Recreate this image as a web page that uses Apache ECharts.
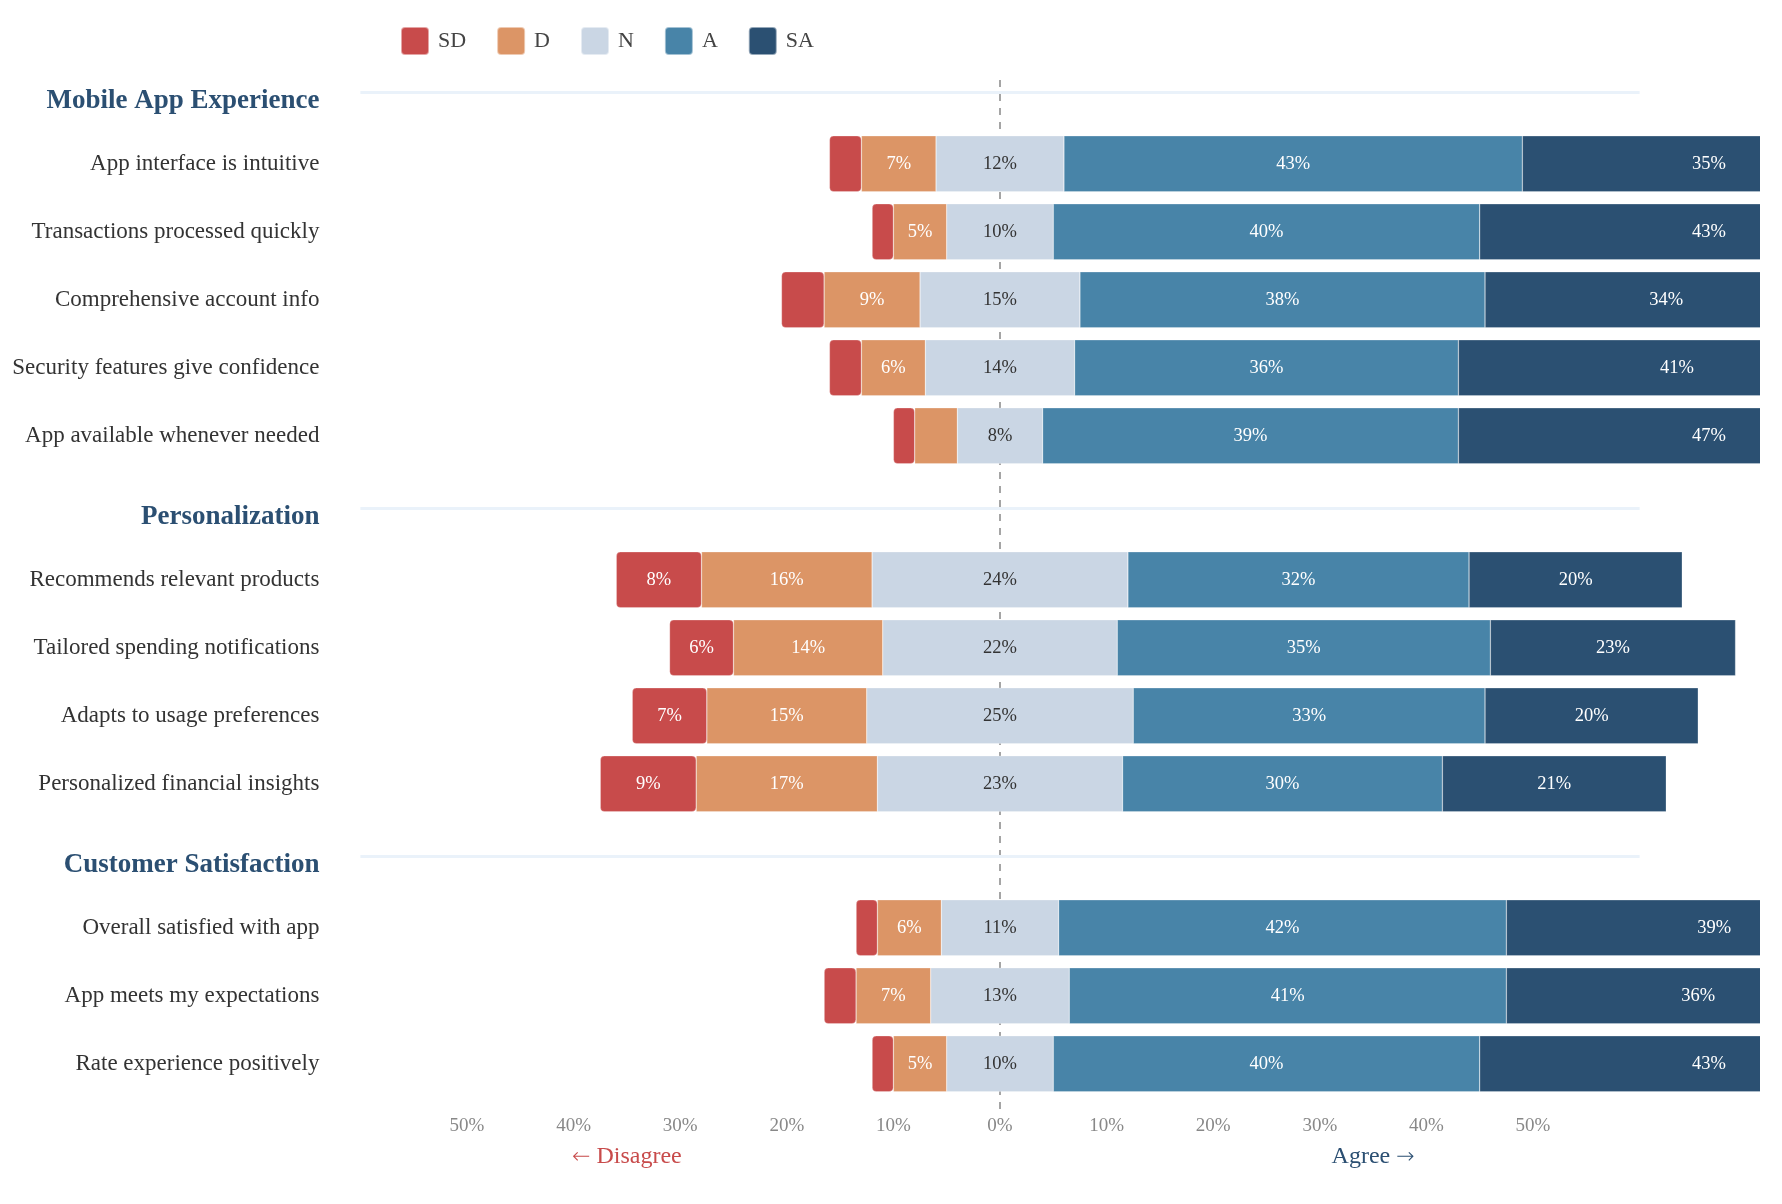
<!DOCTYPE html>
<html>
<head>
<meta charset="utf-8">
<script src="https://cdn.jsdelivr.net/npm/echarts@6/dist/echarts.min.js"></script>
<style>
html,body{margin:0;padding:0;background:#fff;}
#chart{width:1760px;height:1204px;}
</style>
</head>
<body>
<div id="chart"></div>
<script>
// ---------- data ----------
const groups = ['Mobile App Experience', 'Personalization', 'Customer Satisfaction'];
const itemsMobile = ['App interface is intuitive', 'Transactions processed quickly', 'Comprehensive account info', 'Security features give confidence', 'App available whenever needed'];
const itemsPersonal = ['Recommends relevant products', 'Tailored spending notifications', 'Adapts to usage preferences', 'Personalized financial insights'];
const itemsSatisfaction = ['Overall satisfied with app', 'App meets my expectations', 'Rate experience positively'];
const levels = ['SD', 'D', 'N', 'A', 'SA'];
// values in %, in order of the items above (Mobile, Personalization, Satisfaction)
const SD = [3, 2, 4, 3, 2, 8, 6, 7, 9, 2, 3, 2];
const D  = [7, 5, 9, 6, 4, 16, 14, 15, 17, 6, 7, 5];
const N  = [12, 10, 15, 14, 8, 24, 22, 25, 23, 11, 13, 10];
const A  = [43, 40, 38, 36, 39, 32, 35, 33, 30, 42, 41, 40];
const SA = [35, 43, 34, 41, 47, 20, 23, 20, 21, 39, 36, 43];
const axisMin = -60, axisMax = 60, axisStep = 10;
const sideText = ['Disagree', 'Agree'];
const sidePos = [-35, 35];

// ---------- styling ----------
const FONT = '"Liberation Serif", "Times New Roman", serif';
const colors = { SD: '#c84b4b', D: '#dc9566', N: '#cad6e4', A: '#4884a8', SA: '#2b5072' };
const values = { SD: SD, D: D, N: N, A: A, SA: SA };
const groupItems = [itemsMobile, itemsPersonal, itemsSatisfaction];
const rowH = 68;
const gridLeft = 360.4, gridRight = 120.4;

const grids = [], xAxes = [], yAxes = [], series = [];
let curTop = 61.8;
let offset = 0;
groupItems.forEach((items, gi) => {
  const cats = [groups[gi]].concat(items);
  grids.push({ left: gridLeft, right: gridRight, top: curTop, height: cats.length * rowH });
  curTop += cats.length * rowH + 8;
  xAxes.push({ gridIndex: gi, type: 'value', min: axisMin, max: axisMax, show: false });
  yAxes.push({
    gridIndex: gi, type: 'category', inverse: true, data: cats,
    axisLine: { show: false }, axisTick: { show: false }, splitLine: { show: false },
    axisLabel: {
      interval: 0, margin: 41,
      formatter: v => groups.indexOf(v) >= 0 ? '{h|' + v + '}' : '{c|' + v + '}',
      rich: {
        h: { fontFamily: FONT, fontSize: 27, fontWeight: 'bold', color: '#2b4f72', padding: [10, 0, 0, 0] },
        c: { fontFamily: FONT, fontSize: 23, color: '#333' }
      }
    }
  });
  const idx = items.map((_, k) => offset + k);
  // invisible base so the neutral block is centred on 0
  series.push({
    name: 'base', type: 'bar', xAxisIndex: gi, yAxisIndex: gi,
    stack: 'g' + gi, stackStrategy: 'all', barWidth: 56, silent: true, clip: false, z: 10,
    itemStyle: { color: 'rgba(0,0,0,0)' },
    label: { show: false },
    data: [null].concat(idx.map(i => -(SD[i] + D[i] + N[i] / 2)))
  });
  levels.forEach(L => {
    series.push({
      name: L, type: 'bar', xAxisIndex: gi, yAxisIndex: gi,
      stack: 'g' + gi, stackStrategy: 'all', barWidth: 56, clip: false, z: 10,
      itemStyle: {
        color: colors[L], borderColor: 'rgba(255,255,255,0.5)', borderWidth: 0.5,
        borderRadius: L === 'SD' ? 4 : 0
      },
      emphasis: { disabled: true },
      label: {
        show: true, position: 'inside',
        formatter: p => (p.value != null && p.value >= 5) ? p.value + '%' : '',
        color: L === 'N' ? '#333' : '#fff',
        fontFamily: FONT, fontSize: 18.5
      },
      data: [null].concat(idx.map(i => values[L][i]))
    });
  });
  offset += items.length;
});

// overlay grid for the zero line, group separators and the bottom axis
grids.push({ left: gridLeft, right: gridRight, top: 80, bottom: 95 });
xAxes.push({
  gridIndex: 3, type: 'value', min: axisMin, max: axisMax, interval: axisStep,
  axisLine: { show: false }, axisTick: { show: false }, splitLine: { show: false },
  axisLabel: {
    margin: 8, color: '#888', fontFamily: FONT, fontSize: 19,
    formatter: v => Math.abs(v) >= 60 ? '' : Math.abs(v) + '%'
  }
});
yAxes.push({ gridIndex: 3, type: 'value', min: 0, max: 1, show: false });
series.push({
  name: 'zero', type: 'line', xAxisIndex: 3, yAxisIndex: 3, data: [[0, 0]],
  symbol: 'none', silent: true, z: 1, lineStyle: { width: 0 },
  markLine: {
    symbol: 'none', silent: true, z: 1,
    label: { show: false },
    emphasis: { disabled: true },
    lineStyle: { type: [7, 7], color: '#888', width: 1.5 },
    data: [{ xAxis: 0 }]
  }
});
series.push({
  id: 'sep', name: 'sep', type: 'line', xAxisIndex: 3, yAxisIndex: 3, data: [[0, 0]],
  symbol: 'none', silent: true, z: 1, lineStyle: { width: 0 },
  markLine: {
    symbol: 'none', silent: true, z: 1, precision: 8,
    label: { show: false },
    emphasis: { disabled: true },
    lineStyle: { color: '#eaf2fa', width: 3, type: 'solid' },
    data: []
  }
});

const chart = echarts.init(document.getElementById('chart'));
chart.setOption({
  animation: false,
  backgroundColor: '#fff',
  legend: {
    data: levels, left: 400, top: 26, padding: 0,
    itemWidth: 28, itemHeight: 28, itemGap: 30,
    icon: 'path://M4,0 H24 A4,4 0 0 1 28,4 V24 A4,4 0 0 1 24,28 H4 A4,4 0 0 1 0,24 V4 A4,4 0 0 1 4,0 Z',
    textStyle: { fontFamily: FONT, fontSize: 22, color: '#444', padding: [0, 0, 0, 4] },
    selectedMode: false
  },
  grid: grids,
  xAxis: xAxes,
  yAxis: yAxes,
  series: series
});

// separators sit slightly above each group-header row
const sepData = groups.map((g, gi) => ({
  yAxis: chart.convertFromPixel({ yAxisIndex: 3 }, chart.convertToPixel({ yAxisIndex: gi }, 0) - 4)
}));
const yBottom = chart.convertToPixel({ yAxisIndex: 3 }, 0);
const ARROW = '"DejaVu Sans", sans-serif';
chart.setOption({
  series: [{ id: 'sep', markLine: { precision: 8, data: sepData } }],
  graphic: sideText.map((t, i) => ({
    type: 'text',
    x: chart.convertToPixel({ xAxisIndex: 3 }, sidePos[i]),
    y: yBottom + 48,
    silent: true,
    style: {
      text: i === 0 ? '{a|\u2190} {t|' + t + '}' : '{t|' + t + '} {a|\u2192}',
      fill: i === 0 ? '#c84b4b' : '#2b4f72',
      fontFamily: FONT, fontSize: 24, align: 'center', verticalAlign: 'middle',
      rich: {
        t: { fontFamily: FONT, fontSize: 24, fill: i === 0 ? '#c84b4b' : '#2b4f72' },
        a: { fontFamily: ARROW, fontSize: 22, fontWeight: 200, fill: i === 0 ? '#c84b4b' : '#2b4f72' }
      }
    }
  }))
});
</script>
</body>
</html>
